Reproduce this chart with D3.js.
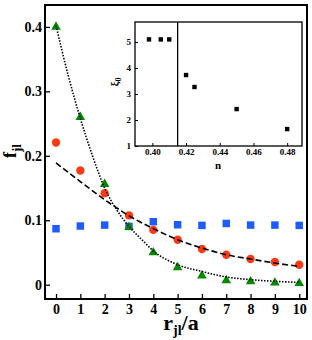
<!DOCTYPE html>
<html>
<head>
<meta charset="utf-8">
<script src="https://cdn.jsdelivr.net/npm/d3@7"></script>
<style>
  body { margin: 0; background: #fff; }
  text { font-family: "Liberation Serif", "Times New Roman", serif; font-weight: bold; }
</style>
</head>
<body>
<svg id="chart" width="312" height="340"></svg>
<script>
// Main panel data
const rVals = [0, 1, 2, 3, 4, 5, 6, 7, 8, 9, 10];
const squareF = [0.0868, 0.091, 0.0925, 0.0904, 0.0977, 0.093, 0.092, 0.095, 0.0925, 0.0925, 0.092];
const circleF = [0.2206, 0.1772, 0.142, 0.1075, 0.085, 0.0698, 0.0553, 0.0465, 0.0398, 0.0352, 0.031];
const triangleF = [0.4, 0.26, 0.156, 0.0895, 0.050, 0.0268, 0.014, 0.0067, 0.005, 0.003, 0.0022];

// Fit curves
const dashR = [0, 1, 2, 3, 4, 5, 6, 7, 8, 9, 10];
const dashF = [0.189, 0.160, 0.132, 0.107, 0.087, 0.0698, 0.0569, 0.0465, 0.0398, 0.0336, 0.0284];
const dotR = [0, 0.5, 1, 1.5, 2, 2.5, 3, 3.5, 4, 5, 6, 7, 8, 9, 10];
const dotF = [0.402, 0.325, 0.258, 0.2, 0.15, 0.116, 0.0904, 0.071, 0.0525, 0.031, 0.0205, 0.012, 0.0078, 0.0052, 0.0036];

const xTicks = [0, 1, 2, 3, 4, 5, 6, 7, 8, 9, 10];
const yTicks = [0, 0.1, 0.2, 0.3, 0.4];

// Inset data
const insetN = [0.398, 0.405, 0.41, 0.42, 0.425, 0.45, 0.48];
const insetXi = [5.1, 5.1, 5.1, 3.73, 3.27, 2.42, 1.65];
const insetXTicks = [0.40, 0.42, 0.44, 0.46, 0.48];
const insetYTicks = [1, 2, 3, 4, 5];
const insetTransition = 0.415;

const svg = d3.select("#chart");

// Main panel box
const frame = {left: 45, top: 5, right: 307, bottom: 299};

const x = d3.scaleLinear().domain([-0.453, 10.32]).range([frame.left, frame.right]);
const y = d3.scaleLinear().domain([-0.0222, 0.434]).range([frame.bottom, frame.top]);

// Axes with inward ticks
svg.append("g")
    .attr("transform", "translate(0," + frame.bottom + ")")
    .call(d3.axisBottom(x).tickValues(xTicks).tickFormat(d3.format("d")).tickSize(-5).tickPadding(5))
    .call(g => g.select(".domain").remove())
    .call(g => g.selectAll("line").attr("stroke", "#000").attr("stroke-width", 1.3))
    .call(g => g.selectAll("text").attr("font-size", 14).attr("fill", "#000")
        .attr("font-family", "Liberation Serif").attr("font-weight", "bold"));

svg.append("g")
    .attr("transform", "translate(" + frame.left + ",0)")
    .call(d3.axisLeft(y).tickValues(yTicks).tickFormat(d => d === 0 ? "0" : d3.format(".1f")(d)).tickSize(-5).tickPadding(3))
    .call(g => g.select(".domain").remove())
    .call(g => g.selectAll("line").attr("stroke", "#000").attr("stroke-width", 1.3))
    .call(g => g.selectAll("text").attr("font-size", 14).attr("fill", "#000")
        .attr("font-family", "Liberation Serif").attr("font-weight", "bold"));

svg.append("rect")
    .attr("x", frame.left).attr("y", frame.top)
    .attr("width", frame.right - frame.left).attr("height", frame.bottom - frame.top)
    .attr("fill", "none").attr("stroke", "#000").attr("stroke-width", 2);

// Markers
const sq = d3.symbol().type(d3.symbolSquare).size(56);
const tri = d3.symbol().type(d3.symbolTriangle).size(40);
const circ = d3.symbol().type(d3.symbolCircle).size(55);

svg.append("g").selectAll("path")
    .data(rVals.map((r, i) => [r, squareF[i]]))
    .join("path")
    .attr("d", sq)
    .attr("transform", d => "translate(" + x(d[0]) + "," + y(d[1]) + ")")
    .attr("fill", "#1f5cff");

svg.append("g").selectAll("path")
    .data(rVals.map((r, i) => [r, triangleF[i]]))
    .join("path")
    .attr("d", tri)
    .attr("transform", d => "translate(" + x(d[0]) + "," + y(d[1]) + ")")
    .attr("fill", "#008a00");

svg.append("g").selectAll("path")
    .data(rVals.map((r, i) => [r, circleF[i]]))
    .join("path")
    .attr("d", circ)
    .attr("transform", d => "translate(" + x(d[0]) + "," + y(d[1]) + ")")
    .attr("fill", "#ff3a12");

// Fit curves
const fitLine = d3.line()
    .curve(d3.curveMonotoneX)
    .x(d => x(d[0]))
    .y(d => y(d[1]));

svg.append("path")
    .datum(dashR.map((r, i) => [r, dashF[i]]))
    .attr("d", fitLine)
    .attr("fill", "none")
    .attr("stroke", "#000")
    .attr("stroke-width", 1.6)
    .attr("stroke-dasharray", "6,3");

svg.append("path")
    .datum(dotR.map((r, i) => [r, dotF[i]]))
    .attr("d", fitLine)
    .attr("fill", "none")
    .attr("stroke", "#000")
    .attr("stroke-width", 1.6)
    .attr("stroke-dasharray", "1.5,1.5");

// Axis titles
const xTitle = svg.append("text")
    .attr("x", 181).attr("y", 330)
    .attr("text-anchor", "middle")
    .attr("font-size", 22);
xTitle.append("tspan").text("r");
xTitle.append("tspan").attr("font-size", 14).attr("dy", 5).text("jl");
xTitle.append("tspan").attr("dy", -5).text("/a");

const yTitle = svg.append("text")
    .attr("transform", "translate(16,151) rotate(-90)")
    .attr("text-anchor", "middle")
    .attr("font-size", 18);
yTitle.append("tspan").text("f");
yTitle.append("tspan").attr("font-size", 13).attr("dy", 5).text("jl");

// Inset
const inset = {left: 135, top: 22, right: 302, bottom: 146};
const ix = d3.scaleLinear().domain([0.3897, 0.4888]).range([inset.left, inset.right]);
const iy = d3.scaleLinear().domain([1, 5.77]).range([inset.bottom, inset.top]);

svg.append("rect")
    .attr("x", inset.left).attr("y", inset.top)
    .attr("width", inset.right - inset.left).attr("height", inset.bottom - inset.top)
    .attr("fill", "#fff").attr("stroke", "#000").attr("stroke-width", 1.3);

svg.append("g")
    .attr("transform", "translate(0," + inset.bottom + ")")
    .call(d3.axisBottom(ix).tickValues(insetXTicks).tickFormat(d3.format(".2f")).tickSize(-3).tickPadding(3))
    .call(g => g.select(".domain").remove())
    .call(g => g.selectAll("line").attr("stroke", "#000"))
    .call(g => g.selectAll("text").attr("font-size", 9).attr("fill", "#000")
        .attr("font-family", "Liberation Serif").attr("font-weight", "bold"));

svg.append("g")
    .attr("transform", "translate(" + inset.left + ",0)")
    .call(d3.axisLeft(iy).tickValues(insetYTicks).tickFormat(d3.format("d")).tickSize(-3).tickPadding(4))
    .call(g => g.select(".domain").remove())
    .call(g => g.selectAll("line").attr("stroke", "#000"))
    .call(g => g.selectAll("text").attr("font-size", 9).attr("fill", "#000")
        .attr("font-family", "Liberation Serif").attr("font-weight", "bold"));

svg.append("line")
    .attr("x1", ix(insetTransition)).attr("x2", ix(insetTransition))
    .attr("y1", inset.top).attr("y2", inset.bottom)
    .attr("stroke", "#000").attr("stroke-width", 1.3);

svg.append("g").selectAll("rect")
    .data(insetN.map((n, i) => [n, insetXi[i]]))
    .join("rect")
    .attr("x", d => ix(d[0]) - 2.2).attr("y", d => iy(d[1]) - 2.2)
    .attr("width", 4.4).attr("height", 4.4)
    .attr("fill", "#000");

svg.append("text")
    .attr("x", 218).attr("y", 169)
    .attr("text-anchor", "middle")
    .attr("font-size", 11)
    .text("n");

const xiTitle = svg.append("text")
    .attr("transform", "translate(118,82) rotate(-90)")
    .attr("text-anchor", "middle")
    .attr("font-size", 11);
xiTitle.append("tspan").text("ξ");
xiTitle.append("tspan").attr("font-size", 8).attr("dy", 3).text("0");
</script>
</body>
</html>
